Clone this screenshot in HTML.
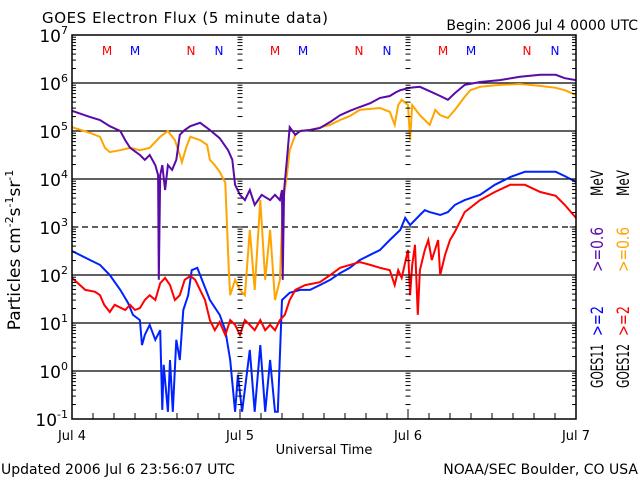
<!DOCTYPE html>
<html><head><meta charset="utf-8"><style>
html,body{margin:0;padding:0;background:#fff;}
svg{display:block;font-family:"DejaVu Sans","Liberation Sans",sans-serif;}
</style></head><body>
<svg id="chart" width="640" height="480" viewBox="0 0 640 480" xmlns="http://www.w3.org/2000/svg">
<rect width="640" height="480" fill="#fff"/>
<text x="42" y="23" font-size="15" textLength="286">GOES Electron Flux (5 minute data)</text>
<text x="638" y="30" font-size="14" text-anchor="end">Begin: 2006 Jul 4 0000 UTC</text>
<text x="324" y="454" font-size="13" text-anchor="middle">Universal Time</text>
<text x="1" y="474" font-size="14">Updated 2006 Jul  6 23:56:07 UTC</text>
<text x="638" y="474" font-size="14" text-anchor="end">NOAA/SEC Boulder, CO USA</text>
<text transform="translate(20,250) rotate(-90)" font-size="17" text-anchor="middle">Particles cm<tspan dy="-7" font-size="11">-2</tspan><tspan dy="7">s</tspan><tspan dy="-7" font-size="11">-1</tspan><tspan dy="7">sr</tspan><tspan dy="-7" font-size="11">-1</tspan></text>
<g font-size="17">
<text transform="translate(603,388) rotate(-90)" fill="#000" textLength="44" lengthAdjust="spacingAndGlyphs">GOES11</text>
<text transform="translate(603,336) rotate(-90)" fill="#0000ff" textLength="30" lengthAdjust="spacingAndGlyphs">&gt;=2</text>
<text transform="translate(603,272) rotate(-90)" fill="#6010b0" textLength="45" lengthAdjust="spacingAndGlyphs">&gt;=0.6</text>
<text transform="translate(603,196) rotate(-90)" fill="#000" textLength="26" lengthAdjust="spacingAndGlyphs">MeV</text>
</g>
<g font-size="17">
<text transform="translate(629,388) rotate(-90)" fill="#000" textLength="44" lengthAdjust="spacingAndGlyphs">GOES12</text>
<text transform="translate(629,336) rotate(-90)" fill="#ff0000" textLength="30" lengthAdjust="spacingAndGlyphs">&gt;=2</text>
<text transform="translate(629,272) rotate(-90)" fill="#ffa500" textLength="45" lengthAdjust="spacingAndGlyphs">&gt;=0.6</text>
<text transform="translate(629,196) rotate(-90)" fill="#000" textLength="26" lengthAdjust="spacingAndGlyphs">MeV</text>
</g>
<g id="grid"></g>
<g id="series"></g>
<g id="axes"></g>
</svg>
<script>
// ---- data (log10 of flux) ----
const dayLabels = ["Jul 4","Jul 5","Jul 6","Jul 7"];
const yExponents = [-1,0,1,2,3,4,5,6,7];
const markerLabels = ["M","M","N","N","M","M","N","N","M","M","N","N"];
const markerHours = [5,9,17,21,29,33,41,45,53,57,65,69];
const markerColors = ["#ff0000","#0000ff","#ff0000","#0000ff","#ff0000","#0000ff","#ff0000","#0000ff","#ff0000","#0000ff","#ff0000","#0000ff"];

const g11LowHours = [0,2.6,4,5.4,6.9,7.6,8.3,9.7,10.4,11.1,11.9,12.3,12.4,12.6,12.9,13.3,13.7,14.3,14.9,15.4,16.1,16.9,18.3,19.7,21.1,22.3,22.9,23.3,24,24.7,25.4,26.1,27.1,28.3,29,29.7,30,30.1,30.3,30.7,31.1,31.9,32.6,34,35.4,36.9,38.3,39.7,41.1,42.6,44,45.4,46.3,46.9,48.3,49.7,51.1,52.6,53.7,54.7,56.1,58.3,61.1,64,66.9,69.1,70.4,72];
const g11LowLog = [5.42,5.29,5.23,5.10,5.0,4.81,4.65,4.5,4.4,4.5,4.29,4.08,1.9,4.08,4.29,3.77,4.29,4.19,4.4,4.92,5.02,5.1,5.17,5.02,4.85,4.6,4.4,3.88,3.67,3.56,3.77,3.46,3.67,3.56,3.67,3.56,3.77,1.9,3.77,4.4,5.08,4.92,5.0,5.02,5.06,5.19,5.33,5.42,5.5,5.58,5.69,5.73,5.81,5.85,5.9,5.92,5.83,5.73,5.65,5.79,5.96,6.02,6.06,6.13,6.17,6.17,6.1,6.06];

const g12LowHours = [0,2.6,4,4.7,5.4,6.9,8.3,9.7,11.1,12.6,13.7,14.7,15.4,15.7,16.3,16.9,18.3,19.3,19.7,20.4,21.1,21.9,22.4,22.6,23.3,24,24.7,25.4,26.1,26.9,27.6,28.3,29,29.7,30.1,30.7,31.1,31.9,32.6,34,36.9,38.3,39.7,41.1,44,45.4,46.1,46.6,47.1,48,48.3,48.6,49.7,50.4,51.1,51.9,52.6,53.7,54.7,56.1,56.9,58.3,61.1,64,66.9,69.1,70.4,72];
const g12LowLog = [5.08,4.96,4.88,4.65,4.56,4.6,4.65,4.6,4.65,4.88,5.0,4.81,4.5,4.35,4.65,4.88,4.81,4.71,4.4,4.29,4.15,3.92,2.1,1.58,1.9,1.69,1.58,2.94,1.69,3.56,1.9,2.94,1.48,1.9,3.46,4.08,4.6,4.92,5.0,5.02,5.13,5.23,5.31,5.44,5.48,5.4,5.13,5.54,5.65,5.54,4.81,5.54,5.33,5.23,5.13,5.44,5.33,5.27,5.44,5.71,5.85,5.92,5.96,5.98,5.94,5.9,5.85,5.75];

const g11HighHours = [0,2.6,4,5.4,6.9,8,8.7,9.7,10,10.4,11.1,11.9,12.6,12.9,13.1,13.7,14,14.4,14.9,15.4,15.9,16.6,17.1,17.9,18.3,19.7,21.1,21.9,22.6,23.3,23.7,24.3,25.4,26.1,26.9,27.6,28.3,29,29.4,30,31.1,32.6,34,35.4,36.9,38.3,39.7,41.1,42.6,44,45.4,46.9,47.6,48.3,49.7,50.4,51.1,52.6,53.7,54.7,56.1,58.3,60.4,62.6,64.7,66.9,69.1,70.4,72];
const g11HighLog = [2.5,2.31,2.21,2.0,1.69,1.42,1.17,1.06,0.54,0.75,0.96,0.65,0.85,-0.81,0.13,-0.85,0.23,-0.85,0.65,0.23,1.27,1.58,2.1,2.15,2.0,1.48,1.17,0.85,0.23,-0.85,-0.08,-0.85,0.44,-0.85,0.54,-0.85,0.23,-0.85,-0.85,1.48,1.63,1.69,1.69,1.79,1.9,2.04,2.15,2.31,2.42,2.52,2.73,2.94,3.19,3.04,3.25,3.35,3.31,3.25,3.31,3.46,3.56,3.67,3.88,4.04,4.15,4.15,4.15,4.06,3.94];

const g12HighHours = [0,1.9,3.3,4,4.6,5.4,6.1,7.6,8.3,9,9.7,10.4,11.1,11.9,12.6,13.3,14,14.7,15.4,16.1,16.9,17.6,18.3,19,19.7,20.4,21.1,21.9,22.6,23.3,24,24.7,25.4,26.1,26.9,27.6,28.3,29,29.7,30.4,31.1,31.9,33.3,35.4,36.9,38.3,39.7,41.1,42.6,44,45.4,46.1,46.6,47.1,48,48.3,48.6,49,49.4,49.7,50.4,50.9,51.4,52.3,52.6,53.3,54,54.7,56.1,58.3,60.4,62.6,64.7,66.9,69.1,70.4,72];
const g12HighLog = [1.94,1.69,1.65,1.58,1.38,1.23,1.38,1.27,1.38,1.27,1.31,1.48,1.58,1.48,1.83,1.94,1.79,1.48,1.58,1.9,1.98,1.9,1.69,1.48,1.06,0.85,1.02,0.75,1.06,0.96,0.75,1.06,0.96,0.85,1.06,0.85,0.96,0.85,1.06,1.17,1.48,1.69,1.79,1.85,2.0,2.15,2.21,2.27,2.21,2.15,2.1,1.79,2.1,1.94,2.52,1.58,2.21,2.63,1.17,2.1,2.52,2.73,2.31,2.73,2.0,2.42,2.73,2.9,3.31,3.56,3.73,3.88,3.88,3.73,3.65,3.46,3.19];

// ---- scales ----
const X0=72, X1=576, Y0=35, Y1=419;
const xScale = h => X0 + h*(X1-X0)/72;
const yScale = l => Y0 + (7-l)*(Y1-Y0)/8;
const NS="http://www.w3.org/2000/svg";
function mk(tag, parent){ const e=document.createElementNS(NS,tag); parent.appendChild(e); return e; }
const grid=document.getElementById('grid'), series=document.getElementById('series'), axes=document.getElementById('axes');

yExponents.forEach(e=>{
  if(e===-1||e===7) return;
  const ln=mk('line',grid);
  
  
  ln.setAttribute('x1',X0); ln.setAttribute('x2',X1);
  ln.setAttribute('y1',yScale(e)); ln.setAttribute('y2',yScale(e));
  ln.setAttribute('stroke','#000'); ln.setAttribute('stroke-width','1.3');
  if(e===3) ln.setAttribute('stroke-dasharray','6,4');
});
function logTicks(x, dir, len){
  for(let e=-1;e<7;e++){
    for(let m=1;m<10;m++){
      const y=yScale(e+Math.log10(m));
      const l=mk('line',axes);
      
      
      const L = m===1 ? len*1.6 : len;
      l.setAttribute('x1',x-(dir===0?L/2:0)); l.setAttribute('x2',x+(dir===0?L/2:dir*L));
      l.setAttribute('y1',y); l.setAttribute('y2',y); l.setAttribute('stroke','#000');
    }
  }
}
logTicks(X0,1,4); logTicks(X1,-1,4); logTicks(xScale(24),0,5); logTicks(xScale(48),0,5);

function drawSeries(hours, logs, color, name){
  const n=Math.min(hours.length,logs.length);
  let d='';
  for(let i=0;i<n;i++){
    d += (i?'L':'M') + xScale(hours[i]).toFixed(1) + ',' + yScale(Math.max(-0.85,logs[i])).toFixed(1);
  }
  const p=mk('path',series);
  
  
  p.setAttribute('d',d); p.setAttribute('fill','none'); p.setAttribute('stroke',color);
  p.setAttribute('stroke-width','2'); p.setAttribute('stroke-linejoin','miter');
}
drawSeries(g11HighHours,g11HighLog,'#0022ff','series-goes11-ge2mev');
drawSeries(g12HighHours,g12HighLog,'#ff0000','series-goes12-ge2mev');
drawSeries(g12LowHours,g12LowLog,'#ffa500','series-goes12-ge06mev');
drawSeries(g11LowHours,g11LowLog,'#5a0aa8','series-goes11-ge06mev');

const fr=mk('rect',axes);


fr.setAttribute('x',X0); fr.setAttribute('y',Y0); fr.setAttribute('width',X1-X0); fr.setAttribute('height',Y1-Y0);
fr.setAttribute('fill','none'); fr.setAttribute('stroke','#000'); fr.setAttribute('stroke-width','1.5');

for(let h=0;h<=72;h+=3){
  const major = h%24===0;
  const t=mk('line',axes);
  
  
  t.setAttribute('x1',xScale(h)); t.setAttribute('x2',xScale(h));
  t.setAttribute('y1',Y1); t.setAttribute('y2',Y1-(major?10:6)); t.setAttribute('stroke','#000');
}
dayLabels.forEach((s,i)=>{
  const t=mk('text',axes);
  
  
  t.setAttribute('x',xScale(i*24)); t.setAttribute('y',440);
  t.setAttribute('font-size','13'); t.setAttribute('text-anchor','middle');
  t.textContent=s;
});
yExponents.forEach(e=>{
  const t=mk('text',axes);
  
  
  t.setAttribute('x',X0-4); t.setAttribute('y',yScale(e)+7);
  t.setAttribute('font-size','17'); t.setAttribute('text-anchor','end');
  const a=document.createElementNS(NS,'tspan'); a.textContent='10'; t.appendChild(a);
  const b=document.createElementNS(NS,'tspan'); b.setAttribute('dy','-8'); b.setAttribute('font-size','11'); b.textContent=String(e); t.appendChild(b);
});
markerLabels.forEach((s,i)=>{
  const t=mk('text',axes);
  
  
  t.setAttribute('x',xScale(markerHours[i])); t.setAttribute('y',55);
  t.setAttribute('font-size','12'); t.setAttribute('text-anchor','middle');
  t.setAttribute('fill',markerColors[i]);
  t.textContent=s;
});
</script>
</body></html>
